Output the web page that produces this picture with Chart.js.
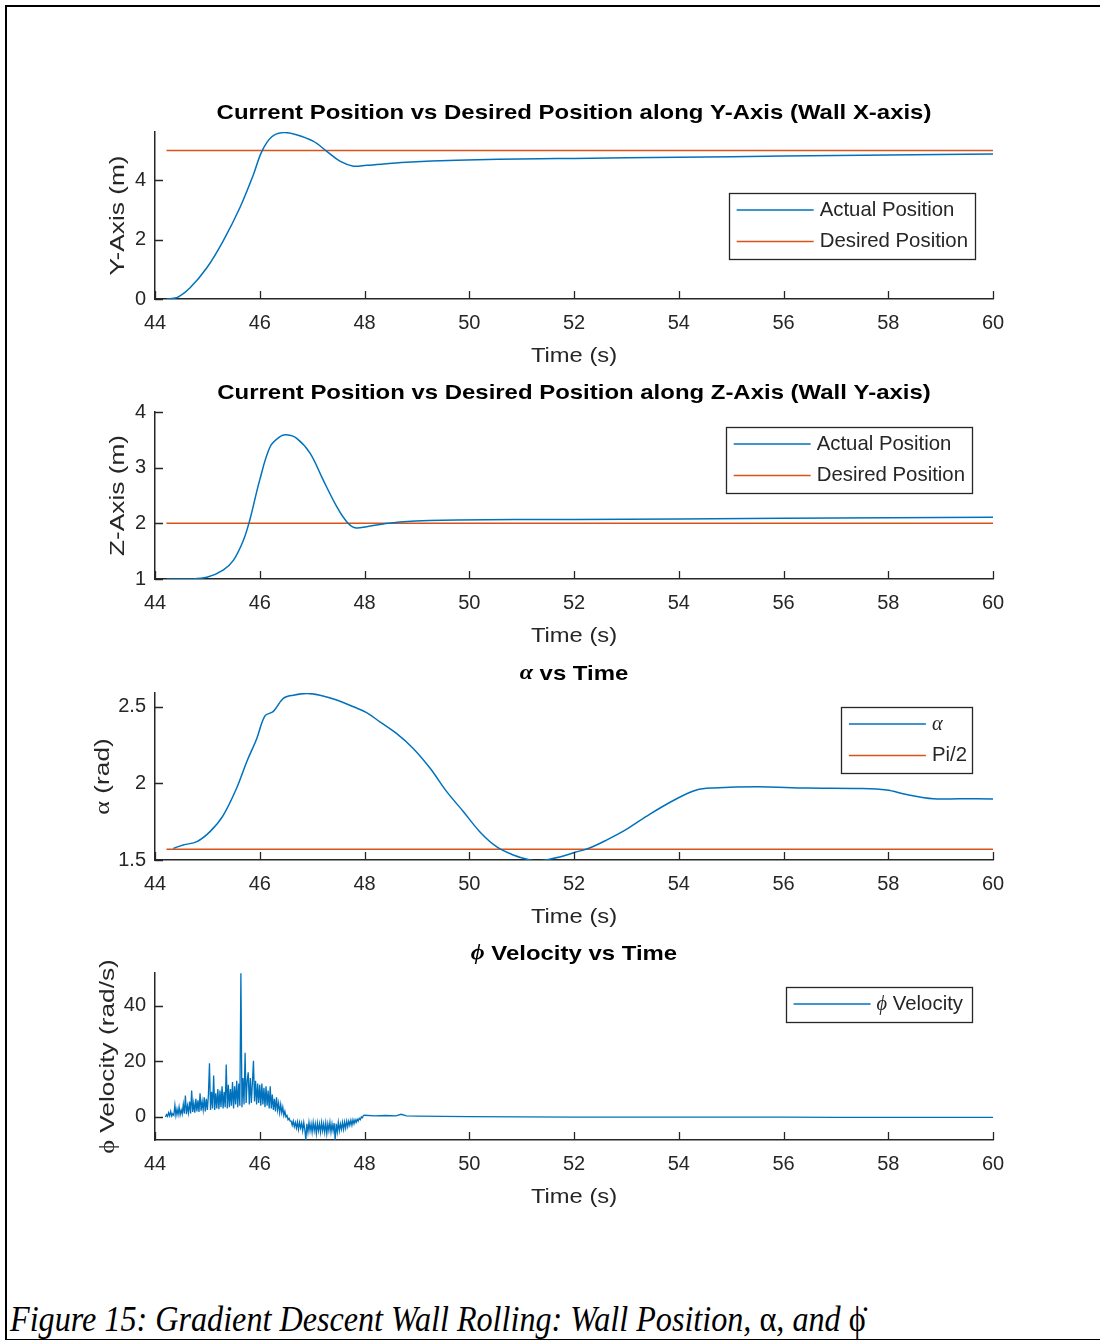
<!DOCTYPE html>
<html>
<head>
<meta charset="utf-8">
<title>Gradient Descent Wall Rolling</title>
<script src="https://cdn.jsdelivr.net/npm/chart.js@4.4.4/dist/chart.umd.min.js"></script>
<style>
    body { margin: 0; background: #fff; }
    #page { position: relative; width: 1100px; height: 1340px; overflow: hidden; background: #fff; }
    #frame { position: absolute; left: 5px; top: 5px; width: 1100px; height: 1332px;
             border-top: 2px solid #000; border-left: 2px solid #000; border-bottom: 1px solid #000; }
    canvas.plot { position: absolute; left: 0; width: 1100px; height: 302px; }
    #caption { position: absolute; left: 10px; top: 1300px; white-space: nowrap;
               font: italic 32px "Liberation Serif", "Times New Roman", serif; color: #000;
               transform-origin: 0 0; transform: scale(1.005, 1.15); line-height: 32px; }
    #caption .up { font-style: normal; }
</style>
</head>
<body>
<div id="page">
    <div id="frame"></div>
    <canvas id="plotY" class="plot" width="1100" height="302"></canvas>
    <canvas id="plotZ" class="plot" width="1100" height="302"></canvas>
    <canvas id="plotAlpha" class="plot" width="1100" height="302"></canvas>
    <canvas id="plotPhi" class="plot" width="1100" height="302"></canvas>
    <div id="caption">Figure 15: Gradient Descent Wall Rolling: Wall Position, <span class="up">α</span>, and <span class="up">ϕ̇</span></div>
</div>
<script>
// ---- data ----
const xTicks = [44, 46, 48, 50, 52, 54, 56, 58, 60];
const yPosTicks = [0, 2, 4];
const zPosTicks = [1, 2, 3, 4];
const alphaTicks = [1.5, 2, 2.5];
const phiTicks = [0, 20, 40];

const desiredTime = [44.22, 60];

const yPosTime   = [44.22, 44.41, 44.67, 44.99, 45.30, 45.62, 45.88, 46.04, 46.23, 46.45, 46.70, 47.02, 47.28, 47.53, 47.79, 48.04, 48.80, 49.76, 51.35, 52, 54, 56, 58, 60];
const yPosActual = [0.00, 0.04, 0.38, 1.05, 1.95, 3.07, 4.19, 4.97, 5.46, 5.60, 5.53, 5.31, 4.97, 4.64, 4.47, 4.50, 4.60, 4.67, 4.72, 4.73, 4.77, 4.81, 4.85, 4.88];
const yPosDesired = [5, 5];

const zPosTime   = [44.22, 44.67, 44.99, 45.30, 45.50, 45.69, 45.81, 46.00, 46.20, 46.39, 46.51, 46.70, 46.96, 47.21, 47.47, 47.66, 47.82, 48.04, 48.36, 48.74, 49.76, 52, 56, 60];
const zPosActual = [1.00, 1.00, 1.03, 1.16, 1.34, 1.70, 2.06, 2.78, 3.38, 3.56, 3.59, 3.53, 3.26, 2.78, 2.30, 2.03, 1.92, 1.94, 1.99, 2.03, 2.06, 2.07, 2.09, 2.11];
const zPosDesired = [2, 2];

const alphaTime  = [44.35, 44.54, 44.80, 45.05, 45.30, 45.56, 45.75, 45.94, 46.10, 46.26, 46.45, 46.64, 46.90, 47.15, 47.47, 47.79, 48.04, 48.30, 48.61, 48.93, 49.25, 49.57, 49.89, 50.20, 50.52, 50.84, 51.16, 51.35, 51.73, 52.02, 52.31, 52.62, 53.00, 53.45, 53.96, 54.34, 54.66, 55.49, 56.44, 57.46, 57.97, 58.35, 58.86, 59.37, 60];
const alphaValue = [1.576, 1.598, 1.62, 1.685, 1.79, 1.97, 2.14, 2.29, 2.44, 2.47, 2.555, 2.576, 2.587, 2.576, 2.544, 2.50, 2.462, 2.40, 2.326, 2.228, 2.10, 1.946, 1.815, 1.685, 1.587, 1.533, 1.50, 1.495, 1.52, 1.55, 1.58, 1.63, 1.70, 1.80, 1.90, 1.957, 1.97, 1.978, 1.97, 1.967, 1.957, 1.928, 1.90, 1.90, 1.898];
const halfPi = [1.5708, 1.5708];

const phiTime = [
    44.20, 44.22, 44.24, 44.26, 44.28, 44.30, 44.32, 44.34, 44.36, 44.38,
    44.40, 44.42, 44.44, 44.46, 44.48, 44.50, 44.52, 44.54, 44.56, 44.58,
    44.60, 44.62, 44.64, 44.66, 44.68, 44.70, 44.72, 44.74, 44.76, 44.78,
    44.80, 44.82, 44.84, 44.86, 44.88, 44.90, 44.92, 44.94, 44.96, 44.98,
    45.00, 45.02, 45.04, 45.06, 45.08, 45.10, 45.12, 45.14, 45.16, 45.18,
    45.20, 45.22, 45.24, 45.26, 45.28, 45.30, 45.32, 45.34, 45.36, 45.38,
    45.40, 45.42, 45.44, 45.46, 45.48, 45.50, 45.52, 45.54, 45.56, 45.58,
    45.60, 45.62, 45.64, 45.66, 45.68, 45.70, 45.72, 45.74, 45.76, 45.78,
    45.80, 45.82, 45.84, 45.86, 45.88, 45.90, 45.92, 45.94, 45.96, 45.98,
    46.00, 46.02, 46.04, 46.06, 46.08, 46.10, 46.12, 46.14, 46.16, 46.18,
    46.20, 46.22, 46.24, 46.26, 46.28, 46.30, 46.32, 46.34, 46.36, 46.38,
    46.40, 46.42, 46.44, 46.46, 46.48, 46.50, 46.52, 46.54, 46.56, 46.58,
    46.60, 46.62, 46.64, 46.66, 46.68, 46.70, 46.72, 46.74, 46.76, 46.78,
    46.80, 46.82, 46.84, 46.86, 46.88, 46.90, 46.92, 46.94, 46.96, 46.98,
    47.00, 47.02, 47.04, 47.06, 47.08, 47.10, 47.12, 47.14, 47.16, 47.18,
    47.20, 47.22, 47.24, 47.26, 47.28, 47.30, 47.32, 47.34, 47.36, 47.38,
    47.40, 47.42, 47.44, 47.46, 47.48, 47.50, 47.52, 47.54, 47.56, 47.58,
    47.60, 47.62, 47.64, 47.66, 47.68, 47.70, 47.72, 47.74, 47.76, 47.78,
    47.80, 47.82, 47.84, 47.86, 47.88, 47.90, 47.92, 47.94, 47.96, 47.98,
    48.00, 48.2, 48.4, 48.6, 48.7, 48.8, 49.0, 49.5, 50, 51,
    52, 53, 54, 55, 56, 57, 58, 59, 60
];
const phiVelocity = [
    0.0, 0.8, 0.2, 1.5, 0.4, 2.0, 0.3, 1.2, 0.6, 4.2,
    0.5, 2.8, 0.8, 3.5, 0.7, 2.5, 1.0, 4.5, 1.2, 7.7,
    1.0, 4.0, 1.5, 5.5, 1.2, 9.5, 1.8, 5.0, 1.5, 6.5,
    2.0, 6.0, 1.8, 8.5, 2.2, 5.5, 2.5, 7.0, 2.0, 6.5,
    2.5, 8.0, 19.3, 2.5, 9.0, 3.0, 14.9, 2.5, 8.5, 3.0,
    10.0, 2.8, 9.5, 3.5, 11.0, 3.0, 9.0, 3.5, 18.8, 3.0,
    11.5, 3.5, 10.0, 4.0, 12.5, 3.0, 11.0, 4.5, 13.0, 3.5,
    12.0, 4.0, 51.6, 3.5, 14.0, 4.5, 23.0, 5.0, 13.0, 16.0,
    4.5, 14.0, 5.0, 12.5, 20.2, 5.5, 13.0, 4.5, 12.0, 5.0,
    11.5, 4.0, 12.0, 4.5, 10.5, 3.5, 11.0, 4.0, 9.5, 3.0,
    11.0, 3.0, 8.0, 2.5, 6.5, 2.0, 7.0, 2.5, 5.0, 1.5,
    4.5, 1.5, 3.5, 0.5, 2.0, 0.0, 0.5, -1.0, -0.5, -1.5,
    -1.5, -3.0, -1.5, -3.5, -2.0, -4.0, -1.8, -4.5, -2.0, -4.0,
    -2.2, -5.0, -2.0, -4.5, -8.3, -2.5, -5.5, -2.0, -5.0, -2.5,
    -5.5, -2.0, -5.0, -2.5, -6.0, -2.2, -5.0, -2.5, -5.5, -2.0,
    -5.0, -2.5, -5.5, -2.2, -6.0, -2.5, -5.0, -2.0, -5.5, -2.5,
    -5.0, -2.2, -8.3, -2.5, -5.5, -2.0, -5.0, -2.5, -4.5, -2.0,
    -4.5, -1.8, -4.0, -1.5, -3.5, -1.5, -3.0, -1.2, -3.0, -1.0,
    -2.5, -1.0, -2.0, -0.8, -1.5, -0.5, -1.0, 0.0, -0.3, 0.5,
    0.6, 0.4, 0.5, 0.4, 0.95, 0.4, 0.3, 0.2, 0.1, 0.0,
    -0.1, -0.1, -0.1, -0.1, -0.1, -0.2, -0.2, -0.2, -0.2
];

// ---- styling ----
const BLUE = '#0072BD';
const ORANGE = '#D95319';
const AXIS = '#262626';
const SANS = '"Liberation Sans", Arial, sans-serif';
const SERIF = '"Liberation Serif", "DejaVu Serif", serif';

const TITLE_STYLE  = { size: 21, weight: 'bold', color: '#000', sx: 1.14, greekItalic: true };
const XLABEL_STYLE = { size: 21, weight: 'normal', color: AXIS, sx: 1.13 };
const YLABEL_STYLE = { size: 21, weight: 'normal', color: AXIS, sx: 1.25 };
const LEGEND_STYLE = { size: 21, weight: 'normal', color: AXIS, sx: 0.97, greekItalic: true };

function zip(xs, ys) {
    return xs.map((x, i) => ({ x: x, y: ys[i] }));
}

function textRuns(text) {
    const runs = [];
    for (const ch of text) {
        const greek = /[\u0370-\u03FF]/.test(ch);
        const last = runs[runs.length - 1];
        if (last && last.greek === greek) last.t += ch;
        else runs.push({ t: ch, greek: greek });
    }
    return runs;
}

function runFont(run, st) {
    if (run.greek) return `${st.greekItalic ? 'italic ' : ''}${st.weight} ${st.size}px ${SERIF}`;
    return `${st.weight} ${st.size}px ${SANS}`;
}

function measureRich(ctx, text, st) {
    let w = 0;
    ctx.save();
    textRuns(text).forEach(r => { ctx.font = runFont(r, st); w += ctx.measureText(r.t).width; });
    ctx.restore();
    return w * st.sx;
}

// draws mixed sans / serif-greek text, stretched along its own direction
function drawRich(ctx, text, x, y, st, align, rotate) {
    const runs = textRuns(text);
    ctx.save();
    ctx.translate(x, y);
    if (rotate) ctx.rotate(rotate);
    ctx.scale(st.sx, 1);
    let w = 0;
    runs.forEach(r => { ctx.font = runFont(r, st); w += ctx.measureText(r.t).width; });
    let cx = align === 'center' ? -w / 2 : (align === 'right' ? -w : 0);
    ctx.fillStyle = st.color;
    ctx.textBaseline = 'middle';
    ctx.textAlign = 'left';
    runs.forEach(r => {
        ctx.font = runFont(r, st);
        ctx.fillText(r.t, cx, 0);
        cx += ctx.measureText(r.t).width;
    });
    ctx.restore();
}

const decorPlugin = {
    id: 'decor',
    afterDraw(chart, args, opts) {
        const ctx = chart.ctx;
        const area = chart.chartArea;
        const xs = chart.scales.x;
        const ys = chart.scales.y;
        const midX = (area.left + area.right) / 2;
        const midY = (area.top + area.bottom) / 2;

        // inward tick marks, MATLAB style
        ctx.save();
        ctx.strokeStyle = AXIS;
        ctx.lineWidth = 1.3;
        ctx.beginPath();
        xs.ticks.forEach(t => {
            const px = Math.round(xs.getPixelForValue(t.value)) + 0.5;
            ctx.moveTo(px, area.bottom);
            ctx.lineTo(px, area.bottom - 8);
        });
        ys.ticks.forEach(t => {
            const py = Math.round(ys.getPixelForValue(t.value)) + 0.5;
            ctx.moveTo(area.left, py);
            ctx.lineTo(area.left + 8, py);
        });
        ctx.stroke();
        ctx.restore();

        drawRich(ctx, opts.title, midX, area.top - 19, TITLE_STYLE, 'center');
        drawRich(ctx, 'Time (s)', midX, area.bottom + 57, XLABEL_STYLE, 'center');
        drawRich(ctx, opts.yLabel, opts.yLabelX, midY, YLABEL_STYLE, 'center', -Math.PI / 2);

        // boxed legend inside the axes
        const items = chart.data.datasets;
        let maxW = 0;
        items.forEach(d => { maxW = Math.max(maxW, measureRich(ctx, d.label, LEGEND_STYLE)); });
        const w = 8 + 77 + 6 + maxW + opts.legendPad;
        const h = 4 + 31 * items.length;
        const x0 = opts.legendRight - w;
        const y0 = area.top + opts.legendTop;
        ctx.save();
        ctx.fillStyle = '#fff';
        ctx.fillRect(x0, y0, w, h);
        ctx.strokeStyle = AXIS;
        ctx.lineWidth = 1.3;
        ctx.strokeRect(Math.round(x0) + 0.5, Math.round(y0) + 0.5, Math.round(w), Math.round(h));
        items.forEach((d, i) => {
            const ry = y0 + 17 + i * 31.5;
            ctx.strokeStyle = d.borderColor;
            ctx.lineWidth = 1.6;
            ctx.beginPath();
            ctx.moveTo(x0 + 8, ry);
            ctx.lineTo(x0 + 85, ry);
            ctx.stroke();
            drawRich(ctx, d.label, x0 + 91, ry, LEGEND_STYLE, 'left');
        });
        ctx.restore();
    }
};

function lineSet(label, xs, ys, color, width, tension) {
    return {
        label: label,
        data: zip(xs, ys),
        borderColor: color,
        borderWidth: width,
        pointRadius: 0,
        fill: false,
        tension: tension
    };
}

function makePlot(id, areaTop, datasets, yMin, yMax, yTicks, decor) {
    const canvas = document.getElementById(id);
    canvas.style.top = (areaTop - 60) + 'px';
    return new Chart(canvas.getContext('2d'), {
        type: 'line',
        data: { datasets: datasets },
        options: {
            responsive: false,
            animation: false,
            events: [],
            layout: { padding: { top: 60, right: 107, left: 0, bottom: 0 } },
            plugins: {
                legend: { display: false },
                tooltip: { enabled: false },
                decor: decor
            },
            scales: {
                x: {
                    type: 'linear',
                    min: 44,
                    max: 60,
                    afterBuildTicks: s => { s.ticks = xTicks.map(v => ({ value: v })); },
                    afterFit: s => { s.height = 75; },
                    grid: { display: true, drawOnChartArea: false, drawTicks: false },
                    border: { display: true, color: AXIS, width: 1.5 },
                    ticks: {
                        font: { family: SANS, size: 20 },
                        color: AXIS,
                        padding: 12,
                        maxRotation: 0,
                        autoSkip: false,
                        callback: v => String(v)
                    }
                },
                y: {
                    type: 'linear',
                    min: yMin,
                    max: yMax,
                    afterBuildTicks: s => { s.ticks = yTicks.map(v => ({ value: v })); },
                    afterFit: s => { s.width = 155; },
                    grid: { display: true, drawOnChartArea: false, drawTicks: false },
                    border: { display: true, color: AXIS, width: 1.5 },
                    ticks: {
                        font: { family: SANS, size: 20 },
                        color: AXIS,
                        padding: 9,
                        autoSkip: false,
                        callback: v => String(v)
                    }
                }
            }
        },
        plugins: [decorPlugin]
    });
}

makePlot('plotY', 132, [
    lineSet('Actual Position', yPosTime, yPosActual, BLUE, 1.5, 0.35),
    lineSet('Desired Position', desiredTime, yPosDesired, ORANGE, 1.5, 0)
], 0, 5.62, yPosTicks, {
    title: 'Current Position vs Desired Position along Y-Axis (Wall X-axis)',
    yLabel: 'Y-Axis (m)', yLabelX: 118,
    legendRight: 975, legendTop: 61, legendPad: 7
});

makePlot('plotZ', 412, [
    lineSet('Actual Position', zPosTime, zPosActual, BLUE, 1.5, 0.35),
    lineSet('Desired Position', desiredTime, zPosDesired, ORANGE, 1.5, 0)
], 1, 4, zPosTicks, {
    title: 'Current Position vs Desired Position along Z-Axis (Wall Y-axis)',
    yLabel: 'Z-Axis (m)', yLabelX: 118,
    legendRight: 972, legendTop: 15, legendPad: 7
});

makePlot('plotAlpha', 693, [
    lineSet('α', alphaTime, alphaValue, BLUE, 1.5, 0.35),
    lineSet('Pi/2', desiredTime, halfPi, ORANGE, 1.5, 0)
], 1.5, 2.59, alphaTicks, {
    title: 'α vs Time',
    yLabel: 'α (rad)', yLabelX: 103,
    legendRight: 972, legendTop: 14, legendPad: 5
});

makePlot('plotPhi', 973, [
    lineSet('ϕ Velocity', phiTime, phiVelocity, BLUE, 1.3, 0)
], -8.3, 51.7, phiTicks, {
    title: 'ϕ Velocity vs Time',
    yLabel: 'ϕ Velocity (rad/s)', yLabelX: 108,
    legendRight: 972, legendTop: 14, legendPad: 9
});
</script>
</body>
</html>
